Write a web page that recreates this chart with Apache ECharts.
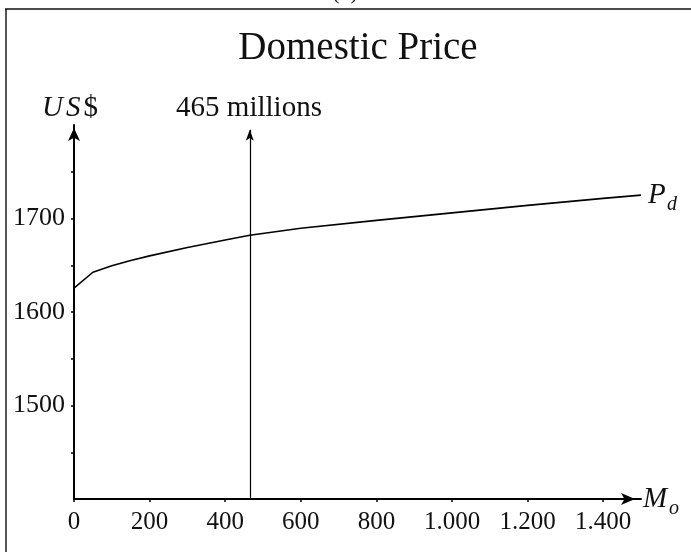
<!DOCTYPE html>
<html>
<head>
<meta charset="utf-8">
<script src="https://cdn.jsdelivr.net/npm/echarts@6/dist/echarts.min.js"></script>
<style>
html,body{margin:0;padding:0;background:#fff;}
#chart{width:691px;height:552px;}
</style>
</head>
<body>
<div id="chart"></div>
<script>
// ---- data ----
const importsM = [0, 50, 100, 150, 200, 300, 400, 465, 600, 800, 1000, 1200, 1400, 1500];
const domesticPrice = [1625.5, 1642.5, 1649.5, 1655, 1660, 1669, 1677, 1682, 1689.5, 1698, 1706, 1714, 1721.5, 1725];
const markerX = 465;
const xTickValues = [0, 200, 400, 600, 800, 1000, 1200, 1400];
const yTickValues = [1450, 1500, 1550, 1600, 1650, 1700, 1750];
const yLabelValues = [1500, 1600, 1700];
const titleText = 'Domestic Price';
const markerText = '465 millions';

const FONT = '"Liberation Serif", "DejaVu Serif", serif';
const chart = echarts.init(document.getElementById('chart'), null, {renderer: 'canvas'});

function fmtThousands(v) {
  return String(v).replace(/\B(?=(\d{3})+(?!\d))/g, '.');
}

const option = {
  animation: false,
  backgroundColor: '#fff',
  grid: {left: 74, right: 50, top: 125, bottom: 53, containLabel: false, outerBoundsMode: 'none'},
  xAxis: {
    type: 'value', min: 0, max: 1500,
    splitLine: {show: false},
    axisLine: {show: true, onZero: false, lineStyle: {color: '#000', width: 2},
      symbol: ['none', 'arrow'], symbolSize: [9, 14], symbolOffset: [0, -6]},
    axisTick: {show: true, length: 3, lineStyle: {color: '#000', width: 1.5}, customValues: xTickValues},
    axisLabel: {color: '#111', fontFamily: FONT, fontSize: 25, margin: 11,
      customValues: xTickValues, formatter: v => fmtThousands(v)}
  },
  yAxis: {
    type: 'value', min: 1400, max: 1800,
    splitLine: {show: false},
    axisLine: {show: true, onZero: false, lineStyle: {color: '#000', width: 2},
      symbol: ['none', 'arrow'], symbolSize: [9, 13], symbolOffset: [0, -3]},
    axisTick: {show: true, length: 3, lineStyle: {color: '#000', width: 1.5}, customValues: yTickValues},
    axisLabel: {color: '#111', fontFamily: FONT, fontSize: 26, margin: 9,
      customValues: yLabelValues, formatter: v => String(v)}
  },
  series: [
    {
      type: 'line',
      data: importsM.map((x, i) => [x, domesticPrice[i]]),
      showSymbol: false, symbol: 'none',
      lineStyle: {color: '#000', width: 1.6},
      silent: true
    },
    {
      type: 'line', data: [], silent: true,
      markLine: {
        silent: true, animation: false,
        symbol: ['none', 'arrow'], symbolSize: [6, 11],
        label: {show: false},
        lineStyle: {color: '#000', width: 1.2, type: 'solid'},
        emphasis: {disabled: true},
        data: [[{coord: [markerX, 1400]}, {coord: [markerX, 1795]}]]
      }
    }
  ],
  graphic: [
    {type: 'line', shape: {x1: 6, y1: 9, x2: 6, y2: 560}, style: {stroke: '#555', lineWidth: 2}, silent: true},
    {type: 'line', shape: {x1: 5, y1: 9, x2: 700, y2: 9}, style: {stroke: '#111', lineWidth: 1.5}, silent: true},
    {type: 'text', x: 345, y: 4, silent: true,
      style: {text: '(b)', font: '22px ' + FONT, fill: '#111', textAlign: 'center', textVerticalAlign: 'bottom'}},
    {type: 'text', x: 358, y: 49, silent: true,
      style: {text: titleText, font: '39px ' + FONT, fill: '#111', textAlign: 'center', textVerticalAlign: 'middle'}},
    {type: 'text', x: 42, y: 108, silent: true,
      style: {text: '{u|U}{s|S}{d|$}', font: '29px ' + FONT, fill: '#111', textAlign: 'left', textVerticalAlign: 'middle',
        rich: {
          u: {fontStyle: 'italic', fontFamily: FONT, fontSize: 29, fill: '#111', padding: [0, 3, 0, 0]},
          s: {fontStyle: 'italic', fontFamily: FONT, fontSize: 29, fill: '#111', padding: [0, 3, 0, 0]},
          d: {fontFamily: FONT, fontSize: 29, fill: '#111'}
        }}},
    {type: 'text', x: 249, y: 108, silent: true,
      style: {text: markerText, font: '29px ' + FONT, fill: '#111', textAlign: 'center', textVerticalAlign: 'middle'}},
    {type: 'text', x: 648, y: 195, silent: true,
      style: {text: 'P', font: 'italic 29px ' + FONT, fill: '#111', textAlign: 'left', textVerticalAlign: 'middle'}},
    {type: 'text', x: 667, y: 205, silent: true,
      style: {text: 'd', font: 'italic 20px ' + FONT, fill: '#111', textAlign: 'left', textVerticalAlign: 'middle'}},
    {type: 'text', x: 643, y: 499, silent: true,
      style: {text: 'M', font: 'italic 29px ' + FONT, fill: '#111', textAlign: 'left', textVerticalAlign: 'middle'}},
    {type: 'text', x: 669, y: 509, silent: true,
      style: {text: 'o', font: 'italic 20px ' + FONT, fill: '#111', textAlign: 'left', textVerticalAlign: 'middle'}}
  ]
};
chart.setOption(option);
</script>
</body>
</html>
